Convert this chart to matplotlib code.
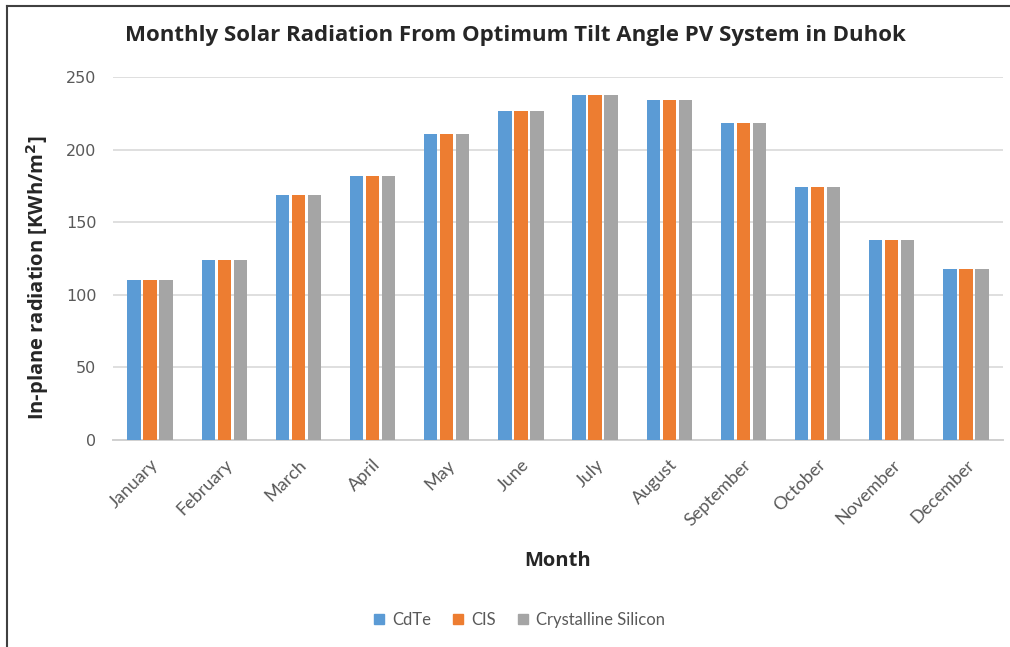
import matplotlib
matplotlib.use("Agg")
import matplotlib.pyplot as plt
import numpy as np
from matplotlib.lines import Line2D

months = ["January", "February", "March", "April", "May", "June", "July",
          "August", "September", "October", "November", "December"]
cdte = [110, 124, 168.5, 182, 211, 226.5, 237.5, 234.5, 218, 174, 137.5, 117.5]
cis = [110, 124, 168.5, 182, 211, 226.5, 237.5, 234.5, 218, 174, 137.5, 117.5]
csi = [110, 124, 168.5, 182, 211, 226.5, 237.5, 234.5, 218, 174, 137.5, 117.5]
series_names = ["CdTe", "CIS", "Crystalline Silicon"]
colors = ["#5B9BD5", "#ED7D31", "#A5A5A5"]
yticks = [0, 50, 100, 150, 200, 250]

W, H = 1010, 647
fig = plt.figure(figsize=(W / 100, H / 100), dpi=100)
ax = fig.add_axes([113 / W, 1 - 440 / H, (1003 - 113) / W, (440 - 77) / H])

x = np.arange(len(months))
bw = 0.18
step = 0.215
for i, (vals, c, name) in enumerate(zip([cdte, cis, csi], colors, series_names)):
    ax.bar(x + (i - 1) * step, vals, width=bw, color=c, label=name, zorder=3)

ax.set_xlim(-0.5, len(months) - 0.5)
ax.set_ylim(0, 250)
ax.set_yticks(yticks)
ax.set_yticklabels([str(v) for v in yticks], fontsize=11.5, color="#595959", family="DejaVu Sans")
ax.grid(axis="y", color="#D9D9D9", linewidth=1.2, zorder=0)
ax.set_axisbelow(True)
for s in ["top", "right", "left"]:
    ax.spines[s].set_visible(False)
ax.spines["bottom"].set_color("#D0D0D0")
ax.spines["bottom"].set_linewidth(1.4)
ax.tick_params(axis="both", length=0)
ax.tick_params(axis="y", pad=12)
ax.set_xticks(x)
ax.set_xticklabels(months, rotation=45, ha="right", va="top", rotation_mode="anchor",
                   fontsize=13, color="#595959", family="Lato")
ax.tick_params(axis="x", pad=12)

fig.text(515 / W, 1 - 35 / H, "Monthly Solar Radiation From Optimum Tilt Angle PV System in Duhok",
         ha="center", va="center", fontsize=16, fontweight="bold", color="#262626", family="Open Sans")
fig.text(38 / W, 1 - 278 / H, "In-plane radiation [KWh/m$^\\mathbf{2}$]", rotation=90,
         ha="center", va="center", fontsize=14.5, fontweight="bold", color="#262626", family="Open Sans")
fig.text(558 / W, 1 - 561 / H, "Month", ha="center", va="center", fontsize=14.5,
         fontweight="bold", color="#262626", family="Open Sans")

handles = [Line2D([0], [0], marker="s", linestyle="none", markersize=7.5,
                  markerfacecolor=c, markeredgecolor=c) for c in colors]
fig.legend(handles, series_names, loc="center", bbox_to_anchor=(517 / W, 1 - 620 / H),
           ncol=3, frameon=False, handletextpad=0.15, columnspacing=1.05, handlelength=1.2,
           labelcolor="#595959", prop={"family": "Lato", "size": 12})

# border
fig.add_artist(Line2D([7 / W, 7 / W], [0, 1 - 6 / H], transform=fig.transFigure, color="#404040", linewidth=1.5))
fig.add_artist(Line2D([7 / W, 1], [1 - 6 / H, 1 - 6 / H], transform=fig.transFigure, color="#404040", linewidth=1.5))

fig.savefig("out.png", dpi=100)
